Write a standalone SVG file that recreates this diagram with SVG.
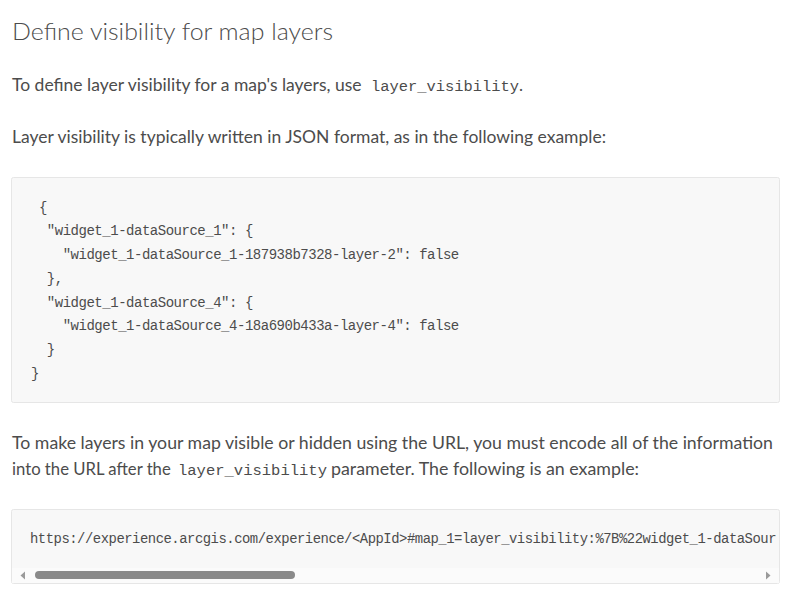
<svg xmlns="http://www.w3.org/2000/svg" width="799" height="598" viewBox="0 0 799 598">
<style>
.h{font-family:Lato,"Open Sans","Liberation Sans",sans-serif;font-weight:300;font-size:24px;fill:#4c4c4c}
.p{font-family:Lato,"Open Sans","Liberation Sans",sans-serif;font-size:17px;fill:#4c4c4c}
.ic{font-family:"Liberation Mono","DejaVu Sans Mono",monospace;font-size:15.5px;fill:#4c4c4c}
.c{font-family:"Liberation Mono","DejaVu Sans Mono",monospace;font-size:14px;letter-spacing:-0.48px;fill:#4c4c4c}
.box{fill:#f8f8f8;stroke:#e6e6e6;stroke-width:1}
</style>
<rect width="799" height="598" fill="#ffffff"/>
<g id="title">
<text class="h" x="12" y="40" textLength="321" lengthAdjust="spacingAndGlyphs">Define visibility for map layers</text>
</g>
<g id="para1">
<text class="p" x="12" y="91"><tspan textLength="354" lengthAdjust="spacingAndGlyphs">To define layer visibility for a map's layers, use </tspan><tspan class="ic" x="371" textLength="148" lengthAdjust="spacingAndGlyphs">layer_visibility</tspan><tspan x="519">.</tspan></text>
</g>
<g id="para2">
<text class="p" x="12" y="143" textLength="594" lengthAdjust="spacingAndGlyphs">Layer visibility is typically written in JSON format, as in the following example:</text>
</g>
<g id="json-block">
<rect class="box" x="11.5" y="177.5" width="768" height="225" rx="2"/>
<text class="c" xml:space="preserve">
<tspan x="31" y="212"> {</tspan>
<tspan x="31" y="235">  "widget_1-dataSource_1": {</tspan>
<tspan x="31" y="259">    "widget_1-dataSource_1-187938b7328-layer-2": false</tspan>
<tspan x="31" y="283">  },</tspan>
<tspan x="31" y="307">  "widget_1-dataSource_4": {</tspan>
<tspan x="31" y="330">    "widget_1-dataSource_4-18a690b433a-layer-4": false</tspan>
<tspan x="31" y="354">  }</tspan>
<tspan x="31" y="378">}</tspan>
</text>
</g>
<g id="para3">
<text class="p" x="12" y="449" textLength="761" lengthAdjust="spacingAndGlyphs">To make layers in your map visible or hidden using the URL, you must encode all of the information</text>
<text class="p" x="12" y="475"><tspan textLength="163" lengthAdjust="spacingAndGlyphs">into the URL after the </tspan><tspan class="ic" x="178" textLength="149" lengthAdjust="spacingAndGlyphs">layer_visibility</tspan><tspan x="331" textLength="308" lengthAdjust="spacingAndGlyphs">parameter. The following is an example:</tspan></text>
</g>
<g id="url-block">
<rect class="box" x="11.5" y="509.5" width="768" height="74" rx="2"/>
<text class="c" x="30" y="543" textLength="746" lengthAdjust="spacingAndGlyphs">https://experience.arcgis.com/experience/&lt;AppId&gt;#map_1=layer_visibility:%7B%22widget_1-dataSour</text>
<rect x="12" y="568" width="767" height="15" fill="#fbfbfb"/>
<rect x="35" y="571" width="260" height="8" rx="4" fill="#8a8a8a"/>
<polygon points="25,571.5 20.5,575.5 25,579.5" fill="#9a9a9a"/>
<polygon points="766,571.5 770.5,575.5 766,579.5" fill="#9a9a9a"/>
</g>
</svg>
